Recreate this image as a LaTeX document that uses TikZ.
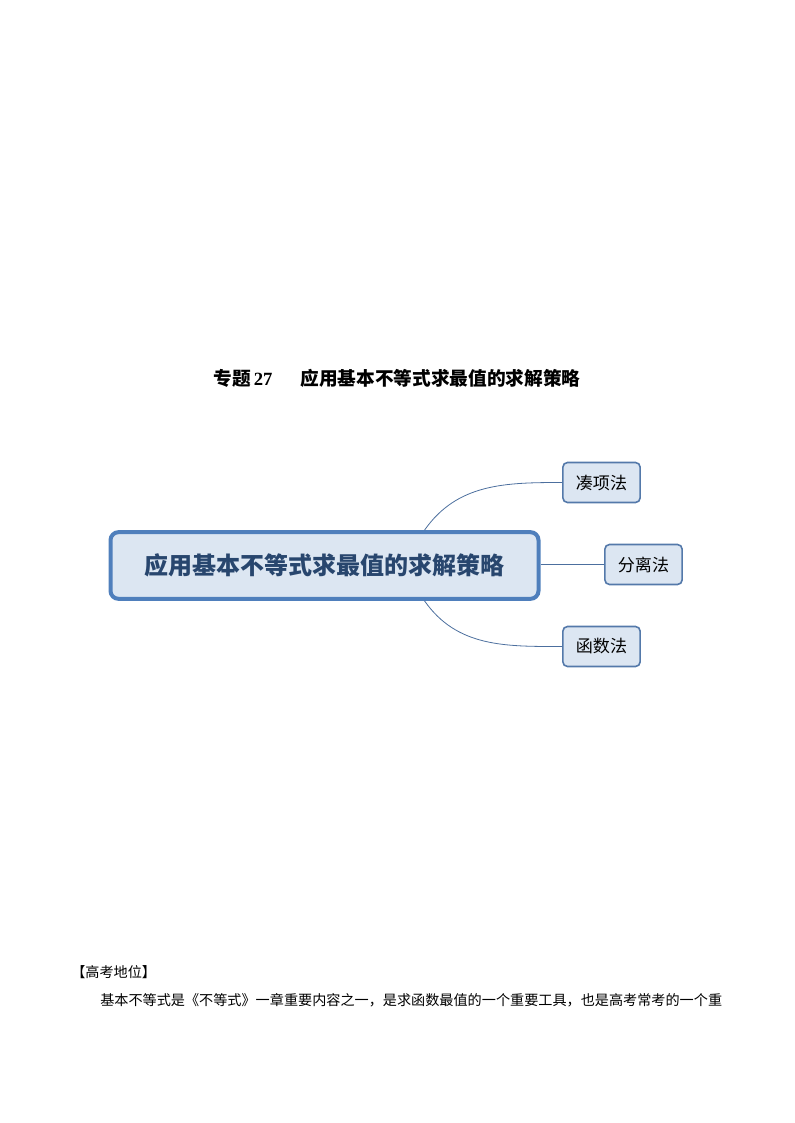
\documentclass[tikz,border=0pt]{standalone}
\usepackage{fontspec}
\setmainfont{Liberation Serif}
\newfontfamily\cjksans{Noto Sans CJK SC}
\usepackage{xcolor}
\definecolor{rootline}{HTML}{4F7FBC}
\definecolor{rootfill}{HTML}{DCE6F2}
\definecolor{roottext}{HTML}{28466E}
\definecolor{leafline}{HTML}{5479AA}
\definecolor{linkline}{HTML}{4C6F9E}

\begin{document}
\begin{tikzpicture}[x=0.75pt, y=-0.75pt,
      root/.style={draw=rootline, line width=3pt, fill=rootfill, rounded corners=6pt,
        minimum width=321pt, minimum height=50pt, inner sep=0pt,
        font=\cjksans\bfseries\fontsize{18}{21}\selectfont, text=roottext},
      leaf/.style={draw=leafline, line width=1.2pt, fill=rootfill, rounded corners=3.5pt,
        minimum width=58pt, minimum height=30pt, inner sep=0pt,
        font=\cjksans\fontsize{12.8}{15}\selectfont},
      link/.style={draw=linkline, line width=0.6pt}]
      \useasboundingbox (0,0) rectangle (794,1123);
      % heading
      \node[font=\bfseries\fontsize{14}{16}\selectfont] (title) at (397,378)
        {{\cjksans 专题}\,27\hspace{1.5em}{\cjksans 应用基本不等式求最值的求解策略}};
      % map
      \node[root] (map) at (324.5,565.5) {应用基本不等式求最值的求解策略};
      \node[leaf] (cou) at (601.5,482.5) {凑项法};
      \node[leaf] (fen) at (643.5,564.5) {分离法};
      \node[leaf] (han) at (601.5,646.5) {函数法};
      \draw[link] ([xshift=75pt]map.north) to[out=55,in=180] (cou.west);
      \draw[link] (map.east |- fen) -- (fen.west);
      \draw[link] ([xshift=75pt]map.south) to[out=-55,in=180] (han.west);
      % text below
      \node[anchor=west, inner sep=0pt, font=\cjksans\fontsize{10.6}{13}\selectfont] (pos) at (71,972)
        {【高考地位】};
      \node[anchor=west, inner sep=0pt, font=\cjksans\fontsize{10.6}{13}\selectfont] (body) at (100,1000)
        {基本不等式是《不等式》一章重要内容之一，是求函数最值的一个重要工具，也是高考常考的一个重};
\end{tikzpicture}
\end{document}
